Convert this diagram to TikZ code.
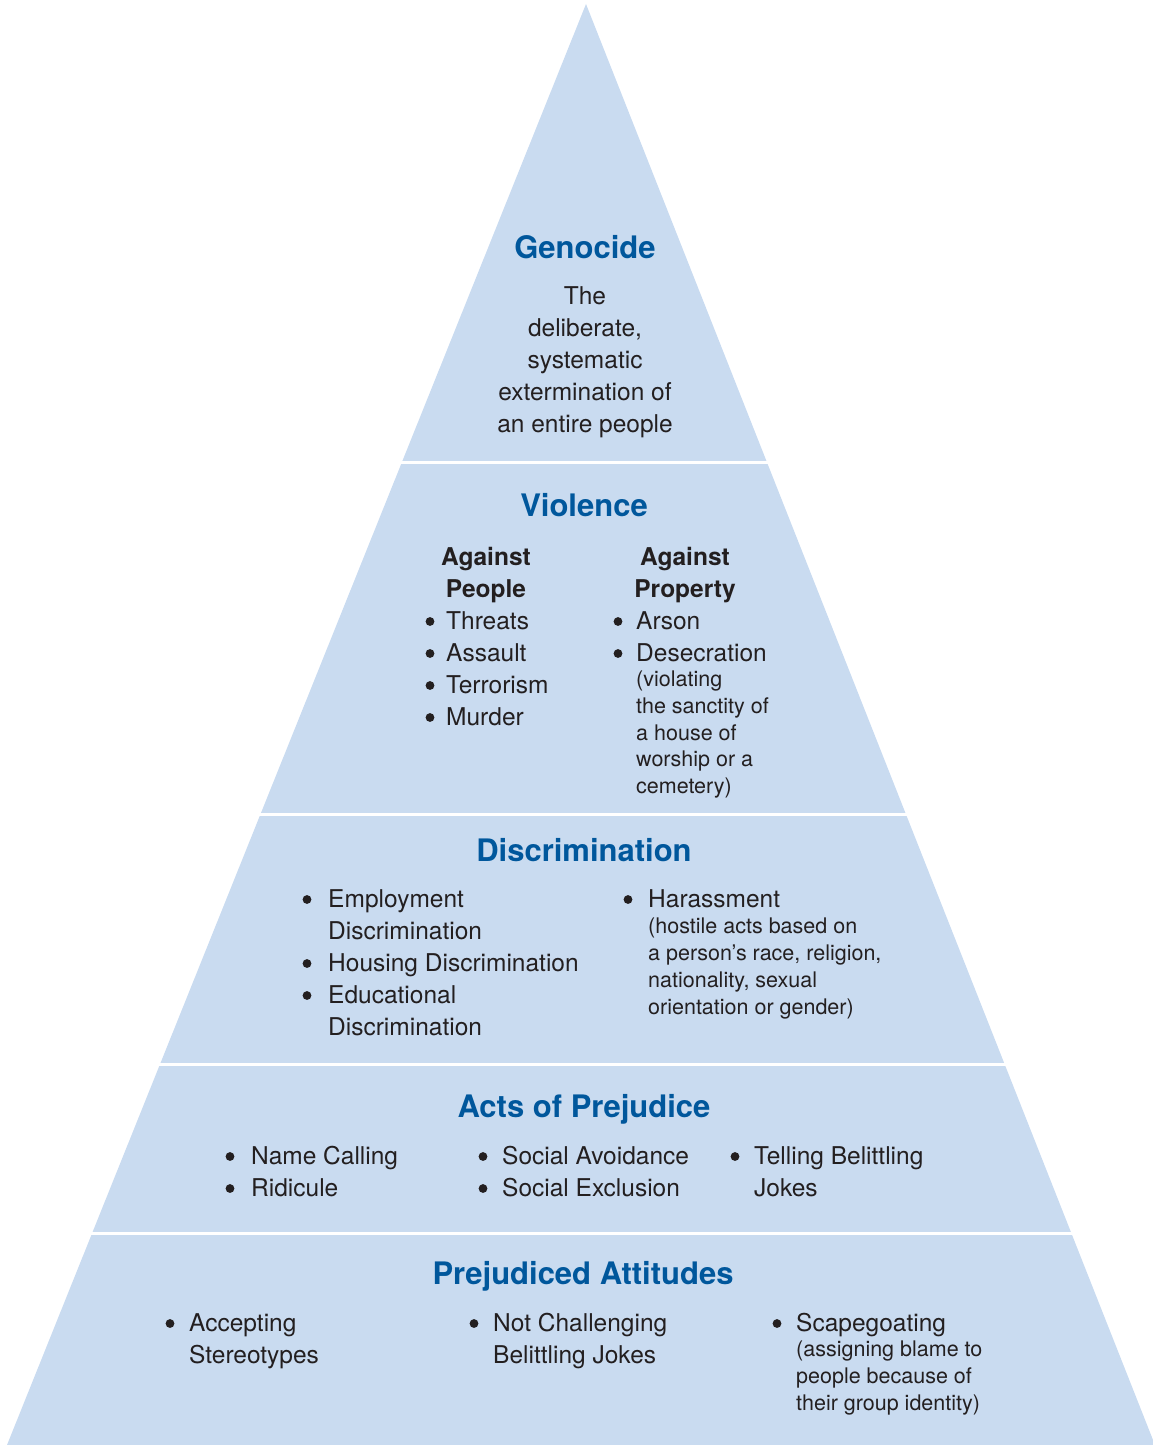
\documentclass[tikz,border=0pt]{standalone}
\usepackage{fontspec}
\setmainfont{TeX Gyre Heros}
\definecolor{pyr}{HTML}{C9DBF0}
\definecolor{titleblue}{HTML}{00579C}
\definecolor{txt}{HTML}{231F20}
\tikzset{
  ttl/.style={anchor=base, inner sep=0pt, text=titleblue, font=\fontsize{31}{36}\selectfont\bfseries},
  bodyc/.style={anchor=base, inner sep=0pt, text=txt, align=center, font=\fontsize{24.5}{32}\selectfont},
  body/.style={anchor=base west, inner sep=0pt, text=txt, align=left, font=\fontsize{24.5}{32}\selectfont},
  hdr/.style={anchor=base, inner sep=0pt, text=txt, align=center, font=\fontsize{24.5}{32}\selectfont\bfseries},
  smalltxt/.style={anchor=base west, inner sep=0pt, text=txt, align=left, font=\fontsize{21.5}{26.7}\selectfont},
  sep/.style={white, line width=2.6pt}
}
\newcommand\bul[2]{\fill[txt] (#1,#2-7.5) circle (4.4pt);}
\begin{document}
\begin{tikzpicture}[x=1pt,y=-1pt]
\useasboundingbox (0,0) rectangle (1153,1445);
% pyramid
\fill[pyr] (586,4) -- (1155,1445) -- (7,1445) -- cycle;
\draw[sep] (0,462.5) -- (1153,462.5);
\draw[sep] (0,814.2) -- (1153,814.2);
\draw[sep] (0,1064.5) -- (1153,1064.5);
\draw[sep] (0,1233.3) -- (1153,1233.3);

% (multi-line nodes are placed at the baseline of their last line)
% Genocide
\node[ttl] (t1) at (585,258) {Genocide};
\node[bodyc] (g1) at (585,432) {The\\deliberate,\\systematic\\extermination of\\an entire people};

% Violence
\node[ttl] (t2) at (584,516) {Violence};
\node[hdr] (vp) at (486,597) {Against\\People};
\node[hdr] (vq) at (685,597) {Against\\Property};
\bul{430}{629}\node[body] (v1) at (446,629) {Threats};
\bul{430}{661}\node[body] (v2) at (446,661) {Assault};
\bul{430}{693}\node[body] (v3) at (446,693) {Terrorism};
\bul{430}{725}\node[body] (v4) at (446,725) {Murder};
\bul{618}{629}\node[body] (v5) at (636,629) {Arson};
\bul{618}{661}\node[body] (v6) at (636,661) {Desecration};
\node[smalltxt] (v7) at (636,793.5) {(violating\\the sanctity of\\a house of\\worship or a\\cemetery)};

% Discrimination
\node[ttl] (t3) at (584,861) {Discrimination};
\bul{307}{907}\node[body] (d1) at (328,939) {Employment\\Discrimination};
\bul{307}{971}\node[body] (d2) at (328,971) {Housing Discrimination};
\bul{307}{1003}\node[body] (d3) at (328,1035) {Educational\\Discrimination};
\bul{628}{907}\node[body] (d4) at (648,907) {Harassment};
\node[smalltxt] (d5) at (648,1014) {(hostile acts based on\\a person’s race, religion,\\nationality, sexual\\orientation or gender)};

% Acts of Prejudice
\node[ttl] (t4) at (584,1117) {Acts of Prejudice};
\bul{230}{1164}\node[body] (a1) at (251,1164) {Name Calling};
\bul{230}{1196}\node[body] (a2) at (251,1196) {Ridicule};
\bul{483}{1164}\node[body] (a3) at (502,1164) {Social Avoidance};
\bul{483}{1196}\node[body] (a4) at (502,1196) {Social Exclusion};
\bul{735}{1164}\node[body] (a5) at (754,1196) {Telling Belittling\\Jokes};

% Prejudiced Attitudes
\node[ttl] (t5) at (583,1284) {Prejudiced Attitudes};
\bul{170}{1331}\node[body] (p1) at (189,1363) {Accepting\\Stereotypes};
\bul{474}{1331}\node[body] (p2) at (493,1363) {Not Challenging\\Belittling Jokes};
\bul{777}{1331}\node[body] (p3) at (796,1331) {Scapegoating};
\node[smalltxt] (p4) at (796,1410) {(assigning blame to\\people because of\\their group identity)};
\end{tikzpicture}
\end{document}
